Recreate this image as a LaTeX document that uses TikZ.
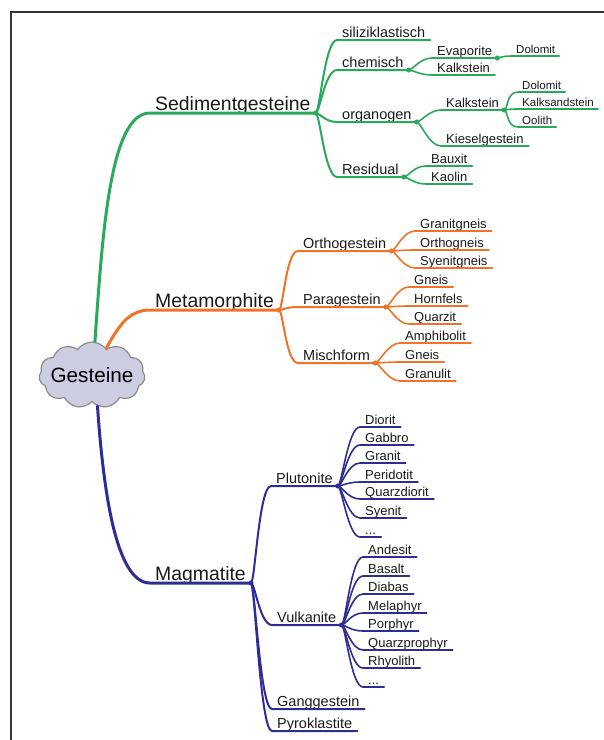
\documentclass[tikz,border=0pt]{standalone}
\usepackage{fontspec}
\setmainfont{Liberation Sans}
\usetikzlibrary{shapes.symbols}
\definecolor{sedgreen}{RGB}{40,170,90}
\definecolor{metorange}{RGB}{240,115,40}
\definecolor{magblue}{RGB}{45,45,150}
\definecolor{cloudfill}{RGB}{205,205,225}

\begin{document}
\begin{tikzpicture}[x=1pt,y=-1pt,
    lvA/.style={anchor=south west,inner xsep=5pt,inner ysep=2.5pt,text depth=0pt,text=black!90,font=\fontsize{19.4}{22}\selectfont},
    lvB/.style={lvA,font=\fontsize{14.5}{17}\selectfont},
    lvC/.style={lvA,inner ysep=2pt,font=\fontsize{13}{15}\selectfont},
    lvD/.style={lvA,inner xsep=4pt,inner ysep=2pt,font=\fontsize{11.5}{13}\selectfont},
    twig/.style={out=0,in=180,out distance=4pt,in distance=12pt},
    stem/.style={line width=3pt,line cap=round},
    br/.style={line width=2pt,line cap=round},
    sub/.style={line width=1.6pt,line cap=round},
    knot/.style={line width=1pt,fill=white}]
  \useasboundingbox (0,0) rectangle (604,740);
  \draw[line width=1.5pt,black!80] (11,740) -- (11,12) -- (604,12);

  \node[cloud,cloud puffs=11,cloud puff arc=110,aspect=1.7,draw=black!45,line width=1.2pt,
        fill=cloudfill,minimum width=106pt,minimum height=66pt,inner sep=0pt,
        font=\fontsize{20.7}{24}\selectfont] (root) at (92,375) {\makebox[0pt]{Gesteine}};

  % Sedimentgesteine
  \node[lvA] (sed) at (150,113) {Sedimentgesteine};
  \node[lvB] (sili) at (337,40) {siliziklastisch};
  \node[lvB] (chem) at (337,70) {chemisch};
  \node[lvB] (orga) at (337,122) {organogen};
  \node[lvB] (resi) at (337,177) {Residual};
  \node[lvC] (evap) at (432,58) {Evaporite};
  \node[lvC] (kalkA) at (432,75) {Kalkstein};
  \node[lvD] (dolA) at (512,56) {Dolomit};
  \node[lvC] (kalkB) at (441,110) {Kalkstein};
  \node[lvC] (kiesel) at (441,146) {Kieselgestein};
  \node[lvD] (dolB) at (518,92) {Dolomit};
  \node[lvD] (kalks) at (518,109) {Kalksandstein};
  \node[lvD] (oolith) at (518,127) {Oolith};
  \node[lvC] (baux) at (426,166) {Bauxit};
  \node[lvC] (kaol) at (426,184) {Kaolin};

  \draw[stem,sedgreen] (root.85) to[out=86,in=180,out distance=110pt,in distance=40pt] (sed.south west) -- (sed.south east);
  \draw[br,sedgreen] (sed.south east) to[twig] (sili.south west) -- (sili.south east);
  \draw[br,sedgreen] (sed.south east) to[twig] (chem.south west) -- (chem.south east);
  \draw[br,sedgreen] (sed.south east) to[twig] (orga.south west) -- (orga.south east);
  \draw[br,sedgreen] (sed.south east) to[twig] (resi.south west) -- (resi.south east);
  \draw[sub,sedgreen] (chem.south east) to[twig] (evap.south west) -- (evap.south east);
  \draw[sub,sedgreen] (chem.south east) to[twig] (kalkA.south west) -- (kalkA.south east);
  \draw[sub,sedgreen] (evap.south east) to[twig] (dolA.south west) -- (dolA.south east);
  \draw[sub,sedgreen] (orga.south east) to[twig] (kalkB.south west) -- (kalkB.south east);
  \draw[sub,sedgreen] (orga.south east) to[twig] (kiesel.south west) -- (kiesel.south east);
  \draw[sub,sedgreen] (kalkB.south east) to[twig] (dolB.south west) -- (dolB.south east);
  \draw[sub,sedgreen] (kalkB.south east) to[twig] (kalks.south west) -- (kalks.south east);
  \draw[sub,sedgreen] (kalkB.south east) to[twig] (oolith.south west) -- (oolith.south east);
  \draw[sub,sedgreen] (resi.south east) to[twig] (baux.south west) -- (baux.south east);
  \draw[sub,sedgreen] (resi.south east) to[twig] (kaol.south west) -- (kaol.south east);
  \draw[knot,sedgreen] (sed.south east) circle (2pt);
  \draw[knot,sedgreen] (chem.south east) circle (2pt);
  \draw[knot,sedgreen] (evap.south east) circle (2pt);
  \draw[knot,sedgreen] (orga.south east) circle (2pt);
  \draw[knot,sedgreen] (kalkB.south east) circle (2pt);
  \draw[knot,sedgreen] (resi.south east) circle (2pt);

  % Metamorphite
  \node[lvA] (meta) at (150,310) {Metamorphite};
  \node[lvB] (ortho) at (298,251) {Orthogestein};
  \node[lvB] (para) at (298,307) {Paragestein};
  \node[lvB] (misch) at (298,363) {Mischform};
  \node[lvC] (granitg) at (415,231) {Granitgneis};
  \node[lvC] (orthog) at (415,250) {Orthogneis};
  \node[lvC] (syenitg) at (415,268) {Syenitgneis};
  \node[lvC] (gneisA) at (409,287) {Gneis};
  \node[lvC] (hornf) at (409,306) {Hornfels};
  \node[lvC] (quarz) at (409,324) {Quarzit};
  \node[lvC] (amphi) at (400,343) {Amphibolit};
  \node[lvC] (gneisB) at (400,362) {Gneis};
  \node[lvC] (granul) at (400,381) {Granulit};

  \draw[stem,metorange] (root.62) to[out=60,in=180] (meta.south west) -- (meta.south east);
  \draw[br,metorange] (meta.south east) to[twig] (ortho.south west) -- (ortho.south east);
  \draw[br,metorange] (meta.south east) to[twig] (para.south west) -- (para.south east);
  \draw[br,metorange] (meta.south east) to[twig] (misch.south west) -- (misch.south east);
  \draw[sub,metorange] (ortho.south east) to[twig] (granitg.south west) -- (granitg.south east);
  \draw[sub,metorange] (ortho.south east) to[twig] (orthog.south west) -- (orthog.south east);
  \draw[sub,metorange] (ortho.south east) to[twig] (syenitg.south west) -- (syenitg.south east);
  \draw[sub,metorange] (para.south east) to[twig] (gneisA.south west) -- (gneisA.south east);
  \draw[sub,metorange] (para.south east) to[twig] (hornf.south west) -- (hornf.south east);
  \draw[sub,metorange] (para.south east) to[twig] (quarz.south west) -- (quarz.south east);
  \draw[sub,metorange] (misch.south east) to[twig] (amphi.south west) -- (amphi.south east);
  \draw[sub,metorange] (misch.south east) to[twig] (gneisB.south west) -- (gneisB.south east);
  \draw[sub,metorange] (misch.south east) to[twig] (granul.south west) -- (granul.south east);
  \draw[knot,metorange] (meta.south east) circle (2pt);
  \draw[knot,metorange] (ortho.south east) circle (2pt);
  \draw[knot,metorange] (para.south east) circle (2pt);
  \draw[knot,metorange] (misch.south east) circle (2pt);

  % Magmatite
  \node[lvA] (mag) at (150,583) {Magmatite};
  \node[lvB] (pluto) at (271,486) {Plutonite};
  \node[lvB] (vulk) at (272,625) {Vulkanite};
  \node[lvB] (gang) at (272,709) {Ganggestein};
  \node[lvB] (pyro) at (272,731) {Pyroklastite};
  \node[lvC] (diorit) at (360,427) {Diorit};
  \node[lvC] (gabbro) at (360,445) {Gabbro};
  \node[lvC] (granit) at (360,463) {Granit};
  \node[lvC] (perid) at (360,482) {Peridotit};
  \node[lvC] (quarzd) at (360,499) {Quarzdiorit};
  \node[lvC] (syenit) at (360,518) {Syenit};
  \node[lvC] (dotsA) at (360,537) {...};
  \node[lvC] (andes) at (363,557) {Andesit};
  \node[lvC] (basalt) at (363,576) {Basalt};
  \node[lvC] (diabas) at (363,594) {Diabas};
  \node[lvC] (melaph) at (363,613) {Melaphyr};
  \node[lvC] (porph) at (363,631) {Porphyr};
  \node[lvC] (quarzp) at (363,650) {Quarzprophyr};
  \node[lvC] (rhyol) at (363,668) {Rhyolith};
  \node[lvC] (dotsB) at (363,687) {...};

  \draw[stem,magblue] (root.-80) to[out=-86,in=180,out distance=80pt,in distance=35pt] (mag.south west) -- (mag.south east);
  \draw[br,magblue] (mag.south east) to[twig] (pluto.south west) -- (pluto.south east);
  \draw[br,magblue] (mag.south east) to[twig] (vulk.south west) -- (vulk.south east);
  \draw[br,magblue] (mag.south east) to[twig] (gang.south west) -- (gang.south east);
  \draw[br,magblue] (mag.south east) to[twig] (pyro.south west) -- (pyro.south east);
  \draw[sub,magblue] (pluto.south east) to[twig] (diorit.south west) -- (diorit.south east);
  \draw[sub,magblue] (pluto.south east) to[twig] (gabbro.south west) -- (gabbro.south east);
  \draw[sub,magblue] (pluto.south east) to[twig] (granit.south west) -- (granit.south east);
  \draw[sub,magblue] (pluto.south east) to[twig] (perid.south west) -- (perid.south east);
  \draw[sub,magblue] (pluto.south east) to[twig] (quarzd.south west) -- (quarzd.south east);
  \draw[sub,magblue] (pluto.south east) to[twig] (syenit.south west) -- (syenit.south east);
  \draw[sub,magblue] (pluto.south east) to[twig] (dotsA.south west) -- (dotsA.south east);
  \draw[sub,magblue] (vulk.south east) to[twig] (andes.south west) -- (andes.south east);
  \draw[sub,magblue] (vulk.south east) to[twig] (basalt.south west) -- (basalt.south east);
  \draw[sub,magblue] (vulk.south east) to[twig] (diabas.south west) -- (diabas.south east);
  \draw[sub,magblue] (vulk.south east) to[twig] (melaph.south west) -- (melaph.south east);
  \draw[sub,magblue] (vulk.south east) to[twig] (porph.south west) -- (porph.south east);
  \draw[sub,magblue] (vulk.south east) to[twig] (quarzp.south west) -- (quarzp.south east);
  \draw[sub,magblue] (vulk.south east) to[twig] (rhyol.south west) -- (rhyol.south east);
  \draw[sub,magblue] (vulk.south east) to[twig] (dotsB.south west) -- (dotsB.south east);
  \draw[knot,magblue] (mag.south east) circle (2pt);
  \draw[knot,magblue] (pluto.south east) circle (2pt);
  \draw[knot,magblue] (vulk.south east) circle (2pt);
\end{tikzpicture}
\end{document}
